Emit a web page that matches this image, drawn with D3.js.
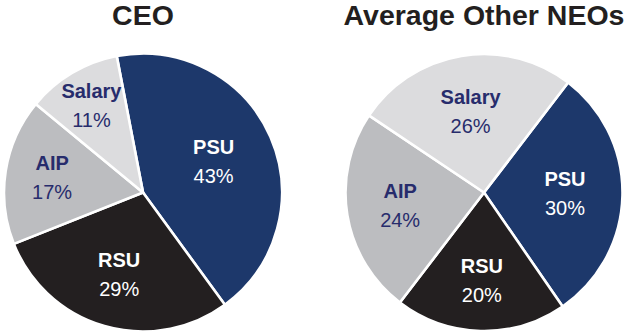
<!DOCTYPE html>
<html>
<head>
<meta charset="utf-8">
<script src="https://cdn.jsdelivr.net/npm/d3@7"></script>
<style>
  html, body { margin: 0; padding: 0; background: #fff; }
  svg { display: block; }
</style>
</head>
<body>
<svg id="chart" width="629" height="336"></svg>
<script>
// ---- Data ----
const categories = ["PSU", "RSU", "AIP", "Salary"];
const ceoValues = [43, 29, 17, 11];
const neoValues = [30, 20, 24, 26];
const chartTitles = ["CEO", "Average Other NEOs"];

// ---- Style ----
const sliceColors = { PSU: "#1d386b", RSU: "#231f20", AIP: "#bcbdc0", Salary: "#dcdcde" };
const labelColors = { PSU: "#ffffff", RSU: "#ffffff", AIP: "#272c6c", Salary: "#272c6c" };
const fontFamily = "'Liberation Sans', Arial, Helvetica, sans-serif";

const pies = [
  { title: chartTitles[0], values: ceoValues, cx: 143, cy: 192.5, r: 139, startDeg: -10.9,
    labelR: { PSU: 77, RSU: 86, AIP: 92, Salary: 101 } },
  { title: chartTitles[1], values: neoValues, cx: 484, cy: 192.5, r: 138.5, startDeg: 37.4,
    labelR: { PSU: 81, RSU: 89, AIP: 85, Salary: 82 } }
];

const svg = d3.select("#chart");
const color = d3.scaleOrdinal().domain(categories).range(categories.map(c => sliceColors[c]));

pies.forEach(p => {
  const data = categories.map((c, i) => ({ name: c, value: p.values[i] }));
  const start = p.startDeg * Math.PI / 180;
  const pie = d3.pie().sort(null).value(d => d.value)
    .startAngle(start).endAngle(start + 2 * Math.PI);
  const arcs = pie(data);
  const arc = d3.arc().innerRadius(0).outerRadius(p.r);

  const g = svg.append("g").attr("transform", `translate(${p.cx},${p.cy})`);

  g.selectAll("path.slice").data(arcs).enter().append("path")
    .attr("class", "slice")
    .attr("d", arc)
    .attr("fill", d => color(d.data.name))
    .attr("stroke", "#ffffff")
    .attr("stroke-width", 2.6)
    .attr("stroke-linejoin", "round");

  const labels = g.selectAll("g.lbl").data(arcs).enter().append("g")
    .attr("class", "lbl")
    .attr("transform", d => {
      const lr = p.labelR[d.data.name];
      const c = d3.arc().innerRadius(lr).outerRadius(lr).centroid(d);
      return `translate(${c[0]},${c[1]})`;
    });

  labels.append("text")
    .attr("text-anchor", "middle")
    .attr("y", -8)
    .attr("font-family", fontFamily)
    .attr("font-weight", "bold")
    .attr("font-size", 20)
    .attr("fill", d => labelColors[d.data.name])
    .text(d => d.data.name);

  labels.append("text")
    .attr("text-anchor", "middle")
    .attr("y", 21)
    .attr("font-family", fontFamily)
    .attr("font-size", 20)
    .attr("fill", d => labelColors[d.data.name])
    .text(d => d.data.value + "%");

  svg.append("text")
    .attr("x", p.cx)
    .attr("y", 25)
    .attr("text-anchor", "middle")
    .attr("font-family", fontFamily)
    .attr("font-weight", "bold")
    .attr("font-size", 28.5)
    .attr("fill", "#231f20")
    .text(p.title);
});
</script>
</body>
</html>
